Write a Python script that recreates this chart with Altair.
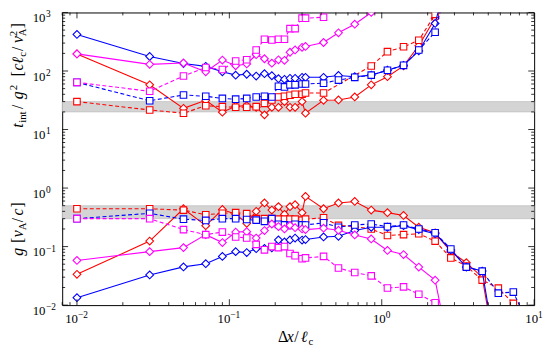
import altair as alt
import pandas as pd

# grid spacing Delta x / l_c
X = [0.01, 0.03, 0.05, 0.07, 0.09, 0.11, 0.13, 0.15, 0.17, 0.19, 0.21, 0.23, 0.25, 0.27, 0.30,
     0.316, 0.415, 0.52, 0.665, 0.853, 1.09, 1.39, 1.75, 2.24, 2.84, 3.59, 4.56, 5.82, 7.3, 9.3]

# upper group: t_int / g^2
t_red_dia = [196, 58, 23, 31.6, 19.8, 25, 25.5, 24, 17.8, 24, 24, 30, 24, 24, 30, 19, 31.6, 32, 36,
             58, 80, 122, 270, 800, 7000]
t_red_sq = [30, 21.6, 19, 25.5, 24.6, 24, 24, 24.6, 28, 32, 36, 37, 38.5, 40, 40, 42, 42, None, None,
            122, 214, 259, 335, 930, 6000]
t_blue_dia = [421, 177, 134, 120, 97, 85, 88, 82, 90, 83, 74, 72, 75, 75, 78, 78, 78, 84, 80, 85,
              103, 125, 220, 650, 7000]
t_blue_sq = [64, 31, 39, 37, 34, 33, 34, 36, 37, 36, 55, 53.5, 58, 58, 60, 60, 62, 70, 78, 85,
             103, 125, 229, 460, 6000]
t_mag_dia = [196, 130, 137, 97, 154, 123, 132, 190, 162, 136, 155, 152, 209, 229, 254, 263, 307,
             450, 630, 1000]
t_mag_sq = [64, 45, 82, 115, 106, 148, 156, 229, 348, 338, 348, 348, 530, 530, 800, 800, 830]

# lower group: g
b_red_dia = [0.0336, 0.124, 0.443, 0.228, 0.43, 0.356, 0.25, 0.40, 0.556, 0.42, 0.48, 0.356, 0.48,
             0.52, 0.38, 0.72, 0.443, 0.556, 0.59, 0.42, 0.38, 0.34, 0.214, 0.172, 0.082, 0.053,
             0.03, 0.0008]
b_red_sq = [0.443, 0.443, 0.42, 0.35, 0.37, 0.38, 0.365, 0.30, 0.30, 0.30, 0.294, 0.294, 0.294,
            0.294, 0.283, 0.294, 0.31, 0.23, 0.22, 0.2, 0.155, 0.16, 0.166, 0.124, 0.064, 0.0464,
            0.0267, 0.0195, 0.0107, 0.005]
b_blue_dia = [0.0134, 0.0328, 0.045, 0.051, 0.068, 0.082, 0.079, 0.092, 0.093, 0.095, 0.13, 0.12,
              0.13, 0.14, 0.129, 0.132, 0.146, 0.15, 0.188, 0.214, 0.214, 0.228, 0.195, 0.166,
              0.0875, 0.0446, 0.0382, 0.0009]
b_blue_sq = [0.30, 0.37, 0.294, 0.28, 0.30, 0.30, 0.29, 0.283, 0.27, 0.30, 0.24, 0.235, 0.23, 0.24,
             0.235, 0.234, 0.255, 0.214, 0.234, 0.243, 0.219, 0.234, 0.2, 0.172, 0.091, 0.0446,
             0.038, 0.016, 0.0167, 0.0043]
b_mag_dia = [0.058, 0.082, 0.096, 0.16, 0.117, 0.177, 0.18, 0.14, 0.188, 0.243, 0.22, 0.2, 0.23,
             0.21, 0.2, 0.195, 0.206, 0.19, 0.158, 0.135, 0.086, 0.073, 0.0446, 0.0267, 0.0013]
b_mag_sq = [0.30, 0.30, 0.195, 0.16, 0.177, 0.146, 0.14, 0.109, 0.088, 0.1, 0.096, 0.1, 0.076, 0.07,
            0.062, 0.064, 0.068, 0.043, 0.036, 0.0316, 0.0196, 0.0205, 0.0153, 0.011, 0.005]

# shaded reference bands
BAND_LO = [20, 0.3]
BAND_HI = [30, 0.5]

X_TICKS = [0.01, 0.1, 1, 10]
X_EXP = ["\u22122", "\u22121", "0", "1"]
Y_TICKS = [0.01, 0.1, 1, 10, 100, 1000]
Y_EXP = ["\u22122", "\u22121", "0", "1", "2", "3"]

SERIES = [
    ("red_dia", "#ff0000", "diamond", False, t_red_dia, b_red_dia),
    ("red_sq", "#ff0000", "square", True, t_red_sq, b_red_sq),
    ("blue_dia", "#0000ff", "diamond", False, t_blue_dia, b_blue_dia),
    ("blue_sq", "#0000ff", "square", True, t_blue_sq, b_blue_sq),
    ("mag_dia", "#ff00ff", "diamond", False, t_mag_dia, b_mag_dia),
    ("mag_sq", "#ff00ff", "square", True, t_mag_sq, b_mag_sq),
]

W, H = 479, 297
TOP = 2
FONT = "Liberation Serif"
xs = alt.Scale(type="log", domain=[0.008, 10])
ys = alt.Scale(type="log", domain=[0.01, 1000])

layers = []

band_df = pd.DataFrame({"lo": BAND_LO, "hi": BAND_HI})
layers.append(
    alt.Chart(band_df).mark_rect(fill="#d4d4d4", stroke="#b8b8b8", strokeWidth=0.6).encode(
        x=alt.value(0), x2=alt.value(W),
        y=alt.Y("lo:Q", scale=ys, axis=None), y2="hi:Q")
)

for name, color, shape, dashed, top, bot in SERIES:
    recs = []
    for panel, vals in (("top", top), ("bot", bot)):
        for i, v in enumerate(vals):
            if v is not None:
                recs.append({"x": X[i], "y": v, "panel": panel})
    df = pd.DataFrame(recs)
    base = alt.Chart(df).encode(
        x=alt.X("x:Q", scale=xs, axis=None),
        y=alt.Y("y:Q", scale=ys, axis=None))
    line_kw = dict(color=color, strokeWidth=1.1, clip=True)
    if dashed:
        line_kw["strokeDash"] = [4, 2.5]
    layers.append(base.mark_line(**line_kw).encode(detail="panel:N"))
    layers.append(base.mark_point(shape=shape, filled=True, fill="white", stroke=color,
                                  strokeWidth=1.1, opacity=1, clip=True,
                                  size=62 if shape == "diamond" else 44))

# inward ticks on all four sides
def minor(decades):
    out = []
    for d in decades:
        for k in range(2, 10):
            out.append(k * d)
    return out

xmaj = pd.DataFrame({"v": X_TICKS})
xmin = pd.DataFrame({"v": [v for v in minor([0.001, 0.01, 0.1, 1]) if 0.008 <= v <= 10]})
ymaj = pd.DataFrame({"v": Y_TICKS})
ymin = pd.DataFrame({"v": minor([0.01, 0.1, 1, 10, 100])})

for df, ln in ((xmaj, 6), (xmin, 3)):
    for y0, y1 in ((H, H - ln), (0, ln)):
        layers.append(alt.Chart(df).mark_rule(color="black", strokeWidth=0.8).encode(
            x=alt.X("v:Q", scale=xs, axis=None), y=alt.value(y0), y2=alt.value(y1)))
for df, ln in ((ymaj, 6), (ymin, 3)):
    for x0, x1 in ((0, ln), (W, W - ln)):
        layers.append(alt.Chart(df).mark_rule(color="black", strokeWidth=0.8).encode(
            y=alt.Y("v:Q", scale=ys, axis=None), x=alt.value(x0), x2=alt.value(x1)))

# tick labels
xl = pd.DataFrame({"v": X_TICKS, "e": X_EXP, "n": [len(e) for e in X_EXP]})
for n, d10, dex in ((2, -5.5, 1), (1, -2.5, 4)):
    sub = xl[xl.n == n]
    layers.append(alt.Chart(sub).mark_text(font=FONT, fontSize=13, align="center",
                                          baseline="alphabetic", dx=d10, color="black").encode(
        x=alt.X("v:Q", scale=xs, axis=None), y=alt.value(H + 18), text=alt.value("10")))
    layers.append(alt.Chart(sub).mark_text(font=FONT, fontSize=9.5, align="left",
                                          baseline="alphabetic", dx=dex, color="black").encode(
        x=alt.X("v:Q", scale=xs, axis=None), y=alt.value(H + 13), text="e:N"))

yl = pd.DataFrame({"v": Y_TICKS, "e": Y_EXP})
layers.append(alt.Chart(yl).mark_text(font=FONT, fontSize=13, align="right",
                                     baseline="alphabetic", dy=10, color="black").encode(
    y=alt.Y("v:Q", scale=ys, axis=None), x=alt.value(-17), text=alt.value("10")))
layers.append(alt.Chart(yl).mark_text(font=FONT, fontSize=9.5, align="left",
                                     baseline="alphabetic", dy=5, color="black").encode(
    y=alt.Y("v:Q", scale=ys, axis=None), x=alt.value(-16.5), text="e:N"))

# axis titles built from pieces
one = pd.DataFrame({"a": [0]})

def piece(txt, px, py, size, italic, angle=0):
    kw = dict(font=FONT, fontSize=size, align="left", baseline="alphabetic", color="black")
    if italic:
        kw["fontStyle"] = "italic"
    if angle:
        kw["angle"] = angle
    return alt.Chart(one).mark_text(**kw).encode(
        x=alt.value(px), y=alt.value(py), text=alt.value(txt))

top_title = [("t", 0, 16, True, 0), ("int", 5, 11, False, 3), ("/", 19, 16, False, 0),
             ("g", 29, 16, True, 0), ("2", 38, 11, False, -6), ("[", 52, 16, False, 0),
             ("c", 58, 16, True, 0), ("\u2113", 65, 16, True, 0), ("c", 72, 11, False, 3),
             ("/", 78, 16, False, 0), ("v", 86, 16, True, 0), ("A", 93, 11, False, 3),
             ("2", 93, 11, False, -6), ("]", 101, 16, False, 0)]
for t, off, sz, it, sh in top_title:
    layers.append(piece(t, -40 + sh, 119 - TOP - off, sz, it, 270))

bot_title = [("g", 0, 16, True, 0), ("[", 13, 16, False, 0), ("v", 19, 16, True, 0),
             ("A", 26, 11, False, 3), ("/", 34, 16, False, 0), ("c", 41, 16, True, 0),
             ("]", 49, 16, False, 0)]
for t, off, sz, it, sh in bot_title:
    layers.append(piece(t, -40 + sh, 249 - TOP - off, sz, it, 270))

x_title = [("\u0394", 219, 0, 16, False), ("x", 228, 0, 16, True), ("/", 235.5, 0, 16, False),
           ("\u2113", 242, 0, 16, True), ("c", 250, 3, 11, False)]
for t, px, sh, sz, it in x_title:
    layers.append(piece(t, px, 336 - TOP + sh, sz, it))

chart = alt.layer(*layers).properties(
    width=W, height=H,
    padding={"left": 55, "top": TOP, "right": 10, "bottom": 42},
    autosize=alt.AutoSizeParams(type="none"),
).configure_view(stroke="black", strokeWidth=1)

chart.save("out.html", embed_options={"renderer": "svg", "actions": False})
